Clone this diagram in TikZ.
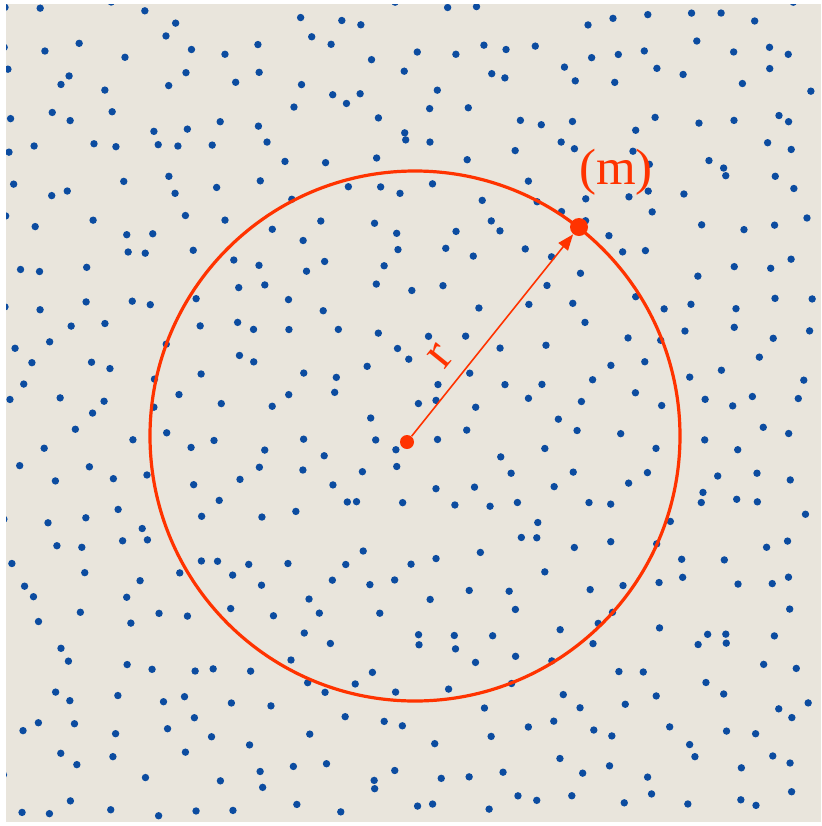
\documentclass[tikz,border=0pt]{standalone}
\usepackage{fontspec}
\setmainfont{Liberation Serif}
\usetikzlibrary{arrows.meta}
\definecolor{bgc}{RGB}{233,229,220}
\definecolor{dotc}{RGB}{12,76,160}
\definecolor{redc}{RGB}{255,51,0}
\tikzset{
  bluedot/.style={fill=dotc},
  reddot/.style={circle,fill=redc,draw=none,inner sep=0pt},
  redlabel/.style={text=redc,inner sep=0pt,font=\fontsize{25.5}{28}\selectfont},
}
\begin{document}
\begin{tikzpicture}[x=0.5pt,y=-0.5pt]
\useasboundingbox (0,0) rectangle (821,826);
\fill[white] (0,0) rectangle (821,826);
\fill[bgc] (6,4) rectangle (821,822);
\begin{scope}
\clip (6,4) rectangle (821,822);
\pgfmathsetseed{12345}
\foreach \i in {0,...,22}{
  \foreach \j in {0,...,22}{
    \pgfmathsetmacro\px{10+\i*36+rand*15}
    \pgfmathsetmacro\py{10+\j*36+rand*15}
    \fill[bluedot] (\px,\py) circle[radius=3.7];
  }
}
\end{scope}
\draw[redc,line width=1.6pt] (415,436) circle[radius=265];
\node[reddot,minimum size=7pt] (c) at (407,442) {};
\node[reddot,minimum size=9pt] (m) at (579,227) {};
\draw[redc,line width=0.8pt,-{Triangle[length=8pt,width=6pt]}] (c) -- (m);
\node[redlabel] (mlabel) at (616,172) {(m)};
\node[redlabel,rotate=51] (rlabel) at (441,356) {r};
\end{tikzpicture}
\end{document}
